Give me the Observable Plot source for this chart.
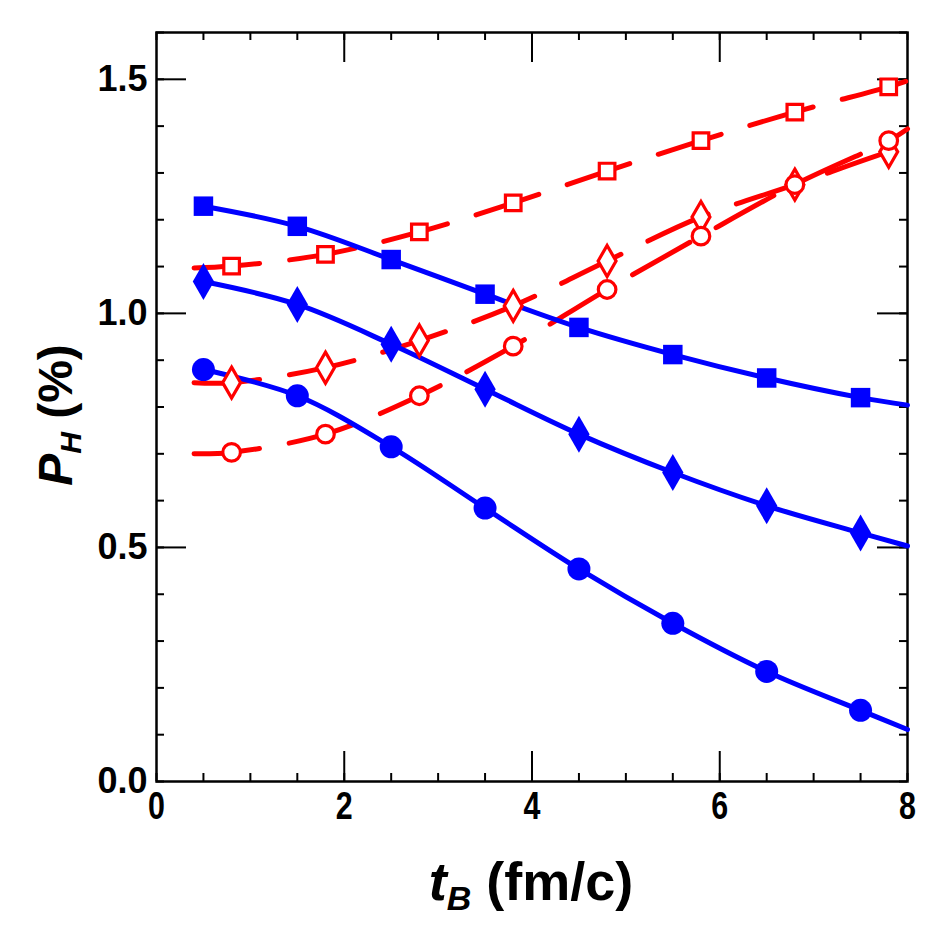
<!DOCTYPE html>
<html>
<head>
<meta charset="utf-8">
<script src="https://cdn.jsdelivr.net/npm/d3@7"></script>
<script src="https://cdn.jsdelivr.net/npm/@observablehq/plot@0.6"></script>
<style>
  html, body { margin: 0; padding: 0; background: #fff; }
  #chart { width: 938px; height: 938px; }
</style>
</head>
<body>
<div id="chart"></div>
<script>
// ---- data ----
const blueX = [0.5, 1.5, 2.5, 3.5, 4.5, 5.5, 6.5, 7.5];
const blueSquare  = [1.229, 1.186, 1.115, 1.041, 0.970, 0.912, 0.862, 0.820];
const blueDiamond = [1.068, 1.019, 0.934, 0.838, 0.742, 0.660, 0.589, 0.531];
const blueCircle  = [0.880, 0.824, 0.715, 0.584, 0.454, 0.338, 0.235, 0.152];
const blueEndX = 8;
const blueEnd = [0.804, 0.503, 0.111];           // curve values at x = 8 (square, diamond, circle)

const redX = [0.8, 1.8, 2.8, 3.8, 4.8, 5.8, 6.8, 7.8];
const redSquare  = [1.101, 1.126, 1.174, 1.236, 1.304, 1.369, 1.430, 1.484];
const redDiamond = [0.852, 0.884, 0.942, 1.016, 1.112, 1.206, 1.275, 1.345];
const redCircle  = [0.703, 0.742, 0.824, 0.930, 1.051, 1.165, 1.275, 1.369];
const redStartX = 0.4;
const redStart = [1.097, 0.852, 0.700];          // curve values at x = 0.4
const redEndX = 8;
const redEnd = [1.497, 1.355, 1.394];            // curve values at x = 8

const xTickLabels = [0, 2, 4, 6, 8];
const yTickLabels = [0, 0.5, 1.0, 1.5];
const xMinorTicks = d3.range(0, 8.01, 0.5);
const yMinorTicks = d3.range(0, 1.601, 0.1);

// ---- build tables ----
const blueSeries = [["square", blueSquare], ["diamond", blueDiamond], ["circle", blueCircle]];
const redSeries  = [["square", redSquare], ["diamond", redDiamond], ["circle", redCircle]];

const bluePts = [], blueLine = [], redPts = [], redLine = [];
blueSeries.forEach(([s, ys], k) => {
  ys.forEach((y, i) => { bluePts.push({s, x: blueX[i], y}); blueLine.push({s, x: blueX[i], y}); });
  blueLine.push({s, x: blueEndX, y: blueEnd[k]});
});
redSeries.forEach(([s, ys], k) => {
  redLine.push({s, x: redStartX, y: redStart[k]});
  ys.forEach((y, i) => { redPts.push({s, x: redX[i], y}); redLine.push({s, x: redX[i], y}); });
  redLine.push({s, x: redEndX, y: redEnd[k]});
});

const W = 938, H = 938, mL = 156, mR = 31, mT = 32, mB = 157;
const fw = W - mL - mR, fh = H - mT - mB;
const majLen = 30, minLen = 8;
const font = "'Liberation Sans', Arial, Helvetica, sans-serif";
const blue = "#0000ff", red = "#ff0000";

const xMajorInner = xTickLabels.filter(v => v > 0 && v < 8);
const yMajorInner = yTickLabels.filter(v => v > 0);

const blueR = {square: 11, diamond: 11.2, circle: 11.5};
const redR  = {square: 8.8, diamond: 9.4, circle: 8.8};

const chart = Plot.plot({
  width: W, height: H,
  marginLeft: mL, marginRight: mR, marginTop: mT, marginBottom: mB,
  style: {fontFamily: font, background: "#fff", color: "#000"},
  x: {domain: [0, 8]},
  y: {domain: [0, 1.6]},
  marks: [
    // minor & major ticks, inward, on all four sides
    Plot.ruleX(xMinorTicks, {x: d => d, insetTop: fh - minLen, stroke: "#000", strokeWidth: 2}),
    Plot.ruleX(xMinorTicks, {x: d => d, insetBottom: fh - minLen, stroke: "#000", strokeWidth: 2}),
    Plot.ruleX(xMajorInner, {x: d => d, insetTop: fh - majLen, stroke: "#000", strokeWidth: 2}),
    Plot.ruleX(xMajorInner, {x: d => d, insetBottom: fh - majLen, stroke: "#000", strokeWidth: 2}),
    Plot.ruleY(yMinorTicks, {y: d => d, insetRight: fw - minLen, stroke: "#000", strokeWidth: 2}),
    Plot.ruleY(yMinorTicks, {y: d => d, insetLeft: fw - minLen, stroke: "#000", strokeWidth: 2}),
    Plot.ruleY(yMajorInner, {y: d => d, insetRight: fw - majLen, stroke: "#000", strokeWidth: 2}),
    Plot.ruleY(yMajorInner, {y: d => d, insetLeft: fw - majLen, stroke: "#000", strokeWidth: 2}),
    Plot.frame({stroke: "#000", strokeWidth: 2.5}),
    Plot.axisX(xTickLabels, {tickSize: 0, tickPadding: 11, fontSize: 38, fontWeight: "bold", label: null, tickFormat: d3.format("d")}),
    Plot.axisY(yTickLabels, {tickSize: 0, tickPadding: 9, fontSize: 36, fontWeight: "bold", label: null, tickFormat: d3.format(".1f")}),
    // lines
    Plot.line(redLine, {x: "x", y: "y", z: "s", stroke: red, strokeWidth: 5, curve: "catmull-rom", strokeDasharray: "66,30"}),
    Plot.line(blueLine, {x: "x", y: "y", z: "s", stroke: blue, strokeWidth: 5, curve: "catmull-rom"}),
    // markers
    Plot.dot(redPts, {x: "x", y: "y", symbol: "s", r: d => redR[d.s], fill: "#fff", stroke: red, strokeWidth: 3.2}),
    Plot.dot(bluePts, {x: "x", y: "y", symbol: "s", r: d => blueR[d.s], fill: blue, stroke: "none"})
  ],
  r: {type: "identity"},
  symbol: {type: "identity"}
});

document.getElementById("chart").appendChild(chart);

// condensed look for the x tick digits (as in the reference)
const svg = d3.select(chart);
svg.selectAll("[aria-label='x-axis tick label'] text").each(function() {
  const t = this.getAttribute("transform");
  if (t) {
    this.setAttribute("transform", t + " scale(0.8,1)");
  } else {
    const x = +this.getAttribute("x") || 0, y = +this.getAttribute("y") || 0;
    this.setAttribute("x", 0); this.setAttribute("y", 0);
    this.setAttribute("transform", `translate(${x},${y}) scale(0.8,1)`);
  }
});

// axis titles with italic symbols and subscripts
const xl = svg.append("text")
  .attr("x", 531).attr("y", 900)
  .attr("text-anchor", "middle")
  .attr("font-family", font).attr("font-weight", "bold").attr("font-size", 54).attr("fill", "#000");
xl.append("tspan").attr("font-style", "italic").text("t");
xl.append("tspan").attr("font-style", "italic").attr("font-size", 34).attr("dy", 10).text("B");
xl.append("tspan").attr("dy", -10).text(" (fm/c)");

const yl = svg.append("text")
  .attr("transform", "translate(72,415) rotate(-90)")
  .attr("text-anchor", "middle")
  .attr("font-family", font).attr("font-weight", "bold").attr("font-size", 48).attr("fill", "#000");
yl.append("tspan").attr("font-style", "italic").text("P");
yl.append("tspan").attr("font-style", "italic").attr("font-size", 30).attr("dy", 9).text("H");
yl.append("tspan").attr("dy", -9).text(" (%)");
</script>
</body>
</html>
